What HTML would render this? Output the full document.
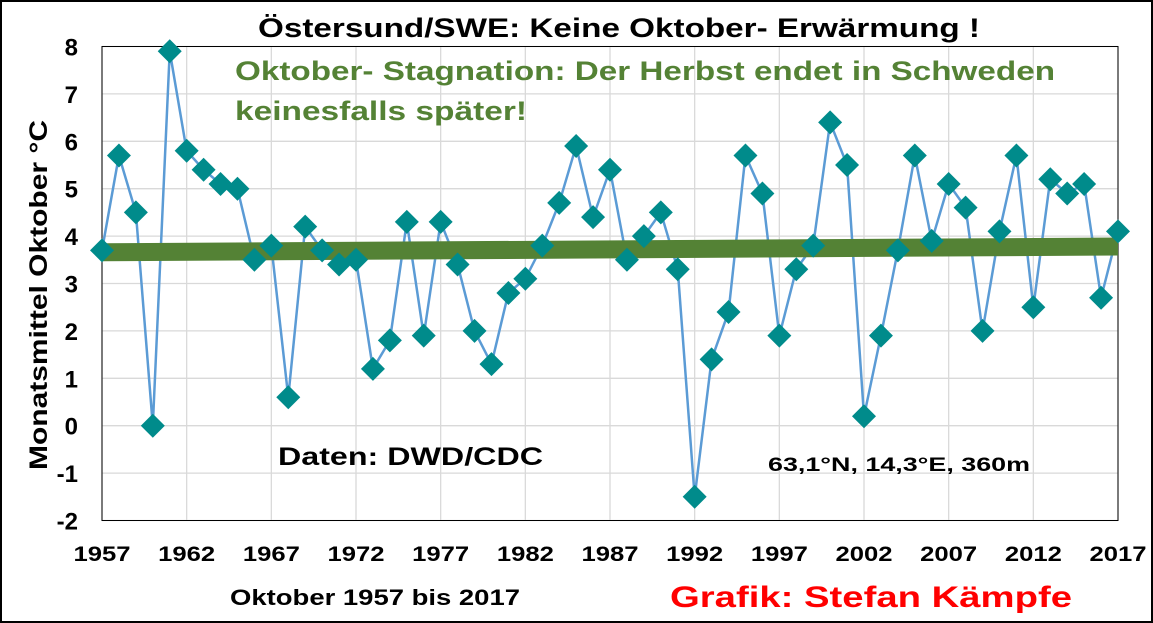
<!DOCTYPE html>
<html><head><meta charset="utf-8"><style>
body{margin:0;background:#fff;}
svg{display:block;font-family:"Liberation Sans",Arial,sans-serif;font-weight:bold;}
</style></head><body>
<svg id="chart" width="1153" height="623">
<rect x="1" y="1" width="1151" height="621" fill="#fff" stroke="#000" stroke-width="2"/>
<g id="grid"></g>
<g id="series"></g>
<g id="labels"></g>
<text x="258" y="37" font-size="27" textLength="722" lengthAdjust="spacingAndGlyphs" fill="#000">Östersund/SWE:  Keine Oktober- Erwärmung !</text>
<text x="235" y="80" font-size="27" textLength="820" lengthAdjust="spacingAndGlyphs" fill="#548235">Oktober- Stagnation: Der Herbst endet in Schweden</text>
<text x="235" y="120" font-size="27" textLength="292" lengthAdjust="spacingAndGlyphs" fill="#548235">keinesfalls später!</text>
<text x="278" y="465" font-size="25" textLength="265" lengthAdjust="spacingAndGlyphs" fill="#000">Daten: DWD/CDC</text>
<text x="768" y="471" font-size="19" textLength="262" lengthAdjust="spacingAndGlyphs" fill="#000">63,1°N, 14,3°E, 360m</text>
<text x="230" y="605" font-size="22" textLength="290" lengthAdjust="spacingAndGlyphs" fill="#000">Oktober 1957 bis 2017</text>
<text x="670" y="607" font-size="30" textLength="402" lengthAdjust="spacingAndGlyphs" fill="#ff0000">Grafik: Stefan Kämpfe</text>
<text transform="translate(47,295) rotate(-90)" font-size="25" text-anchor="middle" textLength="350" lengthAdjust="spacingAndGlyphs" fill="#000">Monatsmittel Oktober °C</text>
</svg>
<script>
const years=[1957,1958,1959,1960,1961,1962,1963,1964,1965,1966,1967,1968,1969,1970,1971,1972,1973,1974,1975,1976,1977,1978,1979,1980,1981,1982,1983,1984,1985,1986,1987,1988,1989,1990,1991,1992,1993,1994,1995,1996,1997,1998,1999,2000,2001,2002,2003,2004,2005,2006,2007,2008,2009,2010,2011,2012,2013,2014,2015,2016,2017];
const temps=[3.7,5.7,4.5,0.0,7.9,5.8,5.4,5.1,5.0,3.5,3.8,0.6,4.2,3.7,3.4,3.5,1.2,1.8,4.3,1.9,4.3,3.4,2.0,1.3,2.8,3.1,3.8,4.7,5.9,4.4,5.4,3.5,4.0,4.5,3.3,-1.5,1.4,2.4,5.7,4.9,1.9,3.3,3.8,6.4,5.5,0.2,1.9,3.7,5.7,3.9,5.1,4.6,2.0,4.1,5.7,2.5,5.2,4.9,5.1,2.7,4.1];
const trendStart=3.66, trendEnd=3.78;
const yTicks=[-2,-1,0,1,2,3,4,5,6,7,8];
const xTicks=[1957,1962,1967,1972,1977,1982,1987,1992,1997,2002,2007,2012,2017];
const NS='http://www.w3.org/2000/svg';
const X0=102,X1=1118,Y0=520.5,Y1=46.5;
const xs=v=>X0+(v-1957)/(2017-1957)*(X1-X0);
const ys=v=>Y0+(v+2)/(8+2)*(Y1-Y0);
function mk(tag,attrs,parent){const e=document.createElementNS(NS,tag);for(const k in attrs)e.setAttribute(k,attrs[k]);parent.appendChild(e);return e;}
const grid=document.getElementById('grid'),ser=document.getElementById('series'),lab=document.getElementById('labels');
yTicks.forEach(t=>{
 const l=mk('line',{x1:X0,x2:X1,y1:ys(t),y2:ys(t),stroke:'#d9d9d9','stroke-width':1.3},grid);
 
 
 const tx=mk('text',{x:78,y:ys(t)+9,'font-size':24,'text-anchor':'end'},lab);
 tx.textContent=t;
 
 
});
xTicks.forEach(t=>{
 const l=mk('line',{x1:xs(t),x2:xs(t),y1:Y1,y2:Y0,stroke:'#d9d9d9','stroke-width':1.3},grid);
 
 
 const tx=mk('text',{x:xs(t),y:561,'font-size':21,'text-anchor':'middle',textLength:57,lengthAdjust:'spacingAndGlyphs'},lab);
 tx.textContent=t;
 
 
});
const frame=mk('rect',{x:X0,y:Y1,width:X1-X0,height:Y0-Y1,fill:'none',stroke:'#000','stroke-width':1},grid);


const pl=mk('polyline',{points:years.map((y,i)=>xs(y)+','+ys(temps[i])).join(' '),fill:'none',stroke:'#5b9bd5','stroke-width':2.5},ser);


const tr=mk('line',{x1:xs(1957),y1:ys(trendStart),x2:xs(2017),y2:ys(trendEnd),stroke:'#548235','stroke-width':18},ser);


years.forEach((y,i)=>{
 const cx=xs(y),cy=ys(temps[i]),r=12;
 const p=mk('polygon',{points:`${cx},${cy-r} ${cx+r},${cy} ${cx},${cy+r} ${cx-r},${cy}`,fill:'#008b8b'},ser);
 
 
});
</script>
</body></html>
